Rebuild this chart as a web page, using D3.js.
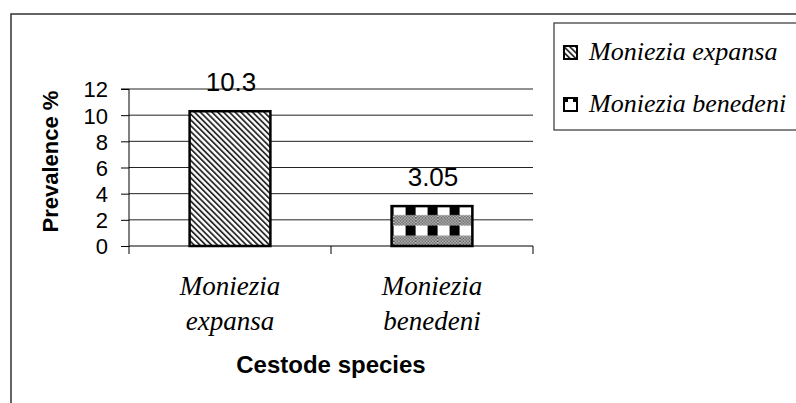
<!DOCTYPE html>
<html>
<head>
<meta charset="utf-8">
<script src="https://cdn.jsdelivr.net/npm/d3@7"></script>
<style>
  body { margin: 0; background: #fff; }
  svg { display: block; }
  .tick-label { font-family: "Liberation Sans", Arial, sans-serif; font-size: 22px; fill: #000; }
  .value-label { font-family: "Liberation Sans", Arial, sans-serif; font-size: 26px; fill: #000; }
  .axis-title { font-family: "Liberation Sans", Arial, sans-serif; font-size: 22px; font-weight: bold; fill: #000; }
  .x-title { font-size: 24px; }
  .cat-label, .legend-label { font-family: "Liberation Serif", "Times New Roman", serif; font-style: italic; font-size: 26px; fill: #000; }
  .cat-label { font-size: 27px; }
</style>
</head>
<body>
<svg id="chart" width="796" height="403"></svg>
<script>
const categories = ['Moniezia expansa', 'Moniezia benedeni'];
const categoryLines = [['Moniezia', 'expansa'], ['Moniezia', 'benedeni']];
const prevalence = [10.3, 3.05];
const valueLabels = ['10.3', '3.05'];
const yTicks = [0, 2, 4, 6, 8, 10, 12];
const patternIds = ['diag', 'check'];

const width = 796, height = 403;
const svg = d3.select('#chart');

const x = d3.scaleBand().domain(categories).range([129, 533]).padding(0);
const y = d3.scaleLinear().domain([0, 12]).range([246, 89]);
const barW = x.bandwidth() * 0.4;

const defs = svg.append('defs');

// diagonal stripes, top-left to bottom-right
const diag = defs.append('pattern')
  .attr('id', 'diag')
  .attr('patternUnits', 'userSpaceOnUse')
  .attr('width', 4.1).attr('height', 4.1)
  .attr('patternTransform', 'rotate(-45)');
diag.append('rect').attr('width', 4.1).attr('height', 4.1).attr('fill', '#fff');
diag.append('rect').attr('width', 1.8).attr('height', 4.1).attr('fill', '#2a2a2a');

// fine dots for the gray bands
const dots = defs.append('pattern')
  .attr('id', 'dots')
  .attr('patternUnits', 'userSpaceOnUse')
  .attr('width', 3).attr('height', 3);
dots.append('rect').attr('width', 3).attr('height', 3).attr('fill', '#ddd');
dots.append('rect').attr('width', 1.5).attr('height', 1.5).attr('fill', '#444');
dots.append('rect').attr('x', 1.5).attr('y', 1.5).attr('width', 1.5).attr('height', 1.5).attr('fill', '#444');

// blocks with dotted bands
const bx = x(categories[1]) + (x.bandwidth() - barW) / 2;
const check = defs.append('pattern')
  .attr('id', 'check')
  .attr('patternUnits', 'userSpaceOnUse')
  .attr('x', bx + 2).attr('y', y(prevalence[1]) - 1)
  .attr('width', 22).attr('height', 20.5);
check.append('rect').attr('width', 22).attr('height', 20.5).attr('fill', '#fff');
check.append('rect').attr('x', 12).attr('width', 11).attr('height', 10.5).attr('fill', '#000');
check.append('rect').attr('y', 10).attr('width', 22).attr('height', 10.5).attr('fill', 'url(#dots)');

// outer frame (only top and left visible)
svg.append('path')
  .attr('d', `M11,${height + 5}V14H${width + 5}`)
  .attr('fill', 'none').attr('stroke', '#333').attr('stroke-width', 1.5);

// gridlines
svg.append('g').selectAll('line')
  .data(yTicks.filter(d => d > 0))
  .join('line')
  .attr('x1', 129).attr('x2', 533)
  .attr('y1', d => y(d)).attr('y2', d => y(d))
  .attr('stroke', '#222').attr('stroke-width', 1);

// y axis
const yAxis = svg.append('g')
  .attr('transform', 'translate(129,0)')
  .call(d3.axisLeft(y).tickValues(yTicks).tickSize(8).tickPadding(13));
yAxis.attr('font-size', null).attr('font-family', null);
yAxis.select('.domain').attr('stroke', '#000').attr('d', `M-8,${y(12)}H0V${y(0)}`);
yAxis.selectAll('.tick line').attr('stroke', '#000');
yAxis.selectAll('.tick text').attr('class', 'tick-label').attr('dy', '0.36em');

// bars
svg.append('g').selectAll('rect')
  .data(prevalence)
  .join('rect')
  .attr('x', (d, i) => x(categories[i]) + (x.bandwidth() - barW) / 2)
  .attr('y', d => y(d))
  .attr('width', barW)
  .attr('height', d => y(0) - y(d))
  .attr('fill', (d, i) => `url(#${patternIds[i]})`)
  .attr('stroke', '#000').attr('stroke-width', 2.5);

// x axis
const xAxis = svg.append('g')
  .attr('transform', `translate(0,${y(0)})`);
xAxis.append('line').attr('x1', 129).attr('x2', 533).attr('stroke', '#000');
xAxis.selectAll('line.tk')
  .data([129, ...categories.map(c => x(c) + x.bandwidth())])
  .join('line').attr('class', 'tk')
  .attr('x1', d => d).attr('x2', d => d)
  .attr('y1', 0).attr('y2', 8)
  .attr('stroke', '#000');

// value labels
svg.append('g').selectAll('text')
  .data(prevalence)
  .join('text')
  .attr('class', 'value-label')
  .attr('x', (d, i) => x(categories[i]) + x.bandwidth() / 2 + 1)
  .attr('y', d => y(d) - 20)
  .attr('text-anchor', 'middle')
  .text((d, i) => valueLabels[i]);

// category labels
const cat = svg.append('g').selectAll('text')
  .data(categoryLines)
  .join('text')
  .attr('class', 'cat-label')
  .attr('text-anchor', 'middle')
  .attr('x', (d, i) => x(categories[i]) + x.bandwidth() / 2)
  .attr('y', 295);
cat.selectAll('tspan')
  .data((d, i) => d.map(t => ({ t, i })))
  .join('tspan')
  .attr('x', d => x(categories[d.i]) + x.bandwidth() / 2)
  .attr('dy', (d, j) => j === 0 ? 0 : 35)
  .text(d => d.t);

// axis titles
svg.append('text')
  .attr('class', 'axis-title')
  .attr('text-anchor', 'middle')
  .attr('transform', `translate(58,${(y(0) + y(12)) / 2 - 6}) rotate(-90)`)
  .text('Prevalence %');

svg.append('text')
  .attr('class', 'axis-title x-title')
  .attr('text-anchor', 'middle')
  .attr('x', 331).attr('y', 373)
  .text('Cestode species');

// legend
const legend = svg.append('g');
legend.append('rect')
  .attr('x', 554).attr('y', 23)
  .attr('width', width - 554 + 10).attr('height', 107)
  .attr('fill', '#fff').attr('stroke', '#333').attr('stroke-width', 1.2);
const items = legend.selectAll('g.item')
  .data(categories)
  .join('g').attr('class', 'item')
  .attr('transform', (d, i) => `translate(0,${i * 52})`);
items.append('rect')
  .attr('x', 564).attr('y', 46)
  .attr('width', 13).attr('height', 13)
  .attr('fill', (d, i) => i === 0 ? 'url(#diag)' : '#fff')
  .attr('stroke', '#000').attr('stroke-width', 2);
items.filter((d, i) => i === 1).append('path')
  .attr('d', 'M564,47h4v3h-4zM573,47h4v3h-4z')
  .attr('fill', '#000');
items.append('text')
  .attr('class', 'legend-label')
  .attr('x', 589).attr('y', 60)
  .text(d => d);
</script>
</body>
</html>
